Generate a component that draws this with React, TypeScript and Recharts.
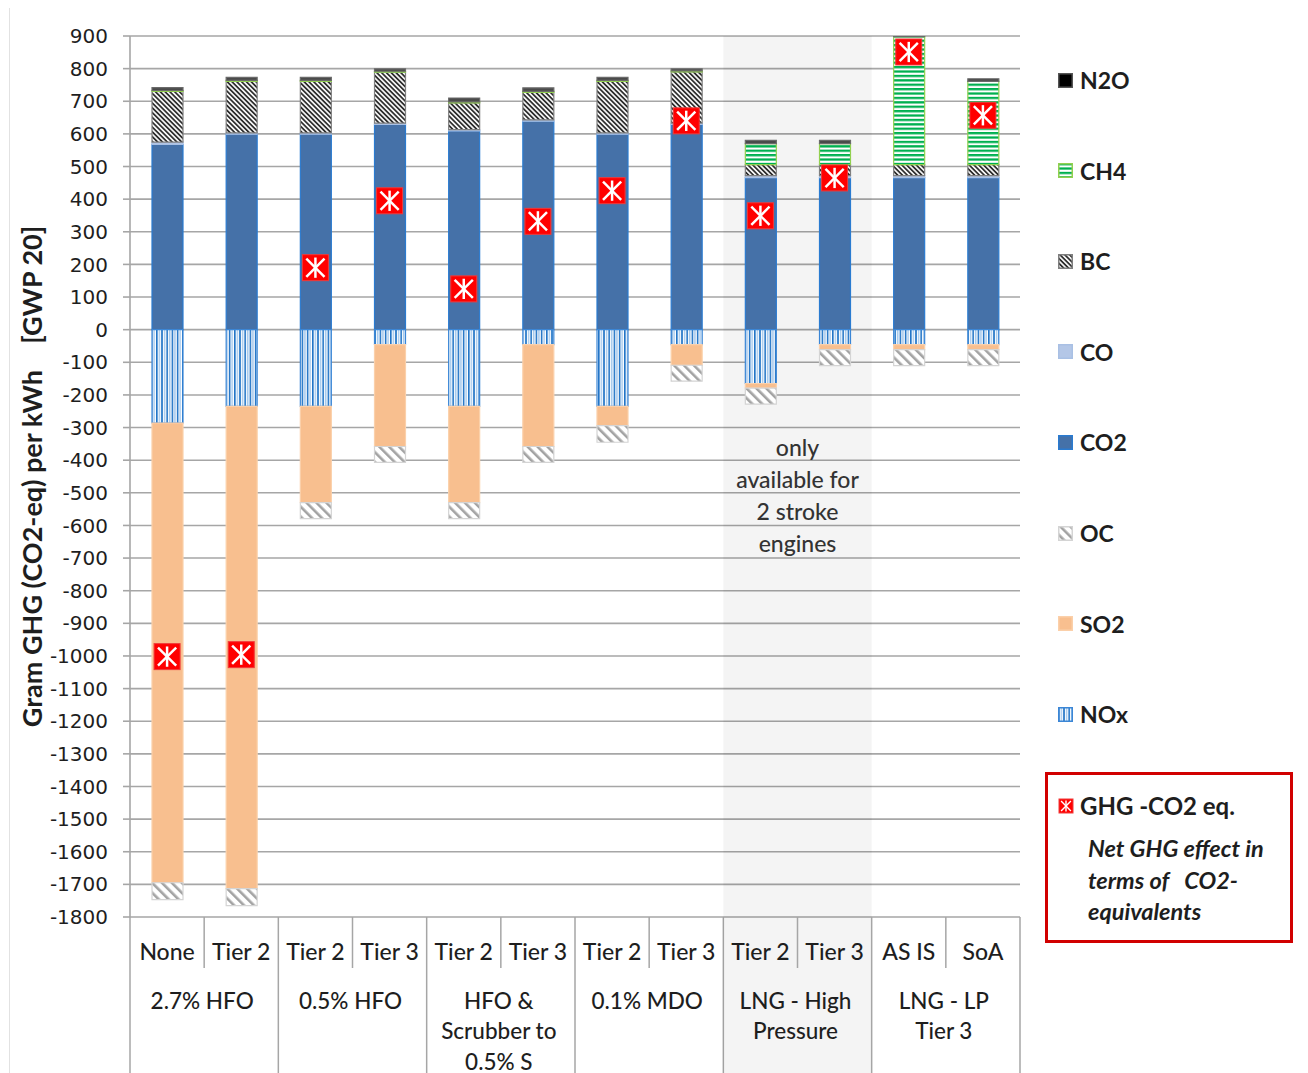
import React from 'react';
import { ComposedChart, Bar, Line, XAxis, YAxis, CartesianGrid, ReferenceArea } from 'recharts';

// Scenario keys (fuel / engine tier), two per fuel group
const categoryIds = [
  'hfo27-none', 'hfo27-t2', 'hfo05-t2', 'hfo05-t3', 'scrub-t2', 'scrub-t3',
  'mdo-t2', 'mdo-t3', 'lnghp-t2', 'lnghp-t3', 'lnglp-asis', 'lnglp-soa',
];
const tierLabels = ['None', 'Tier 2', 'Tier 2', 'Tier 3', 'Tier 2', 'Tier 3', 'Tier 2', 'Tier 3', 'Tier 2', 'Tier 3', 'AS IS', 'SoA'];
const groupLabels = [
  ['2.7% HFO'],
  ['0.5% HFO'],
  ['HFO &', 'Scrubber to', '0.5% S'],
  ['0.1% MDO'],
  ['LNG - High', 'Pressure'],
  ['LNG - LP', 'Tier 3'],
];

// g CO2-eq per kWh, GWP 20
const co2Values = [568, 599, 599, 629, 609, 639, 599, 629, 466, 466, 466, 466];
const coValues = [7, 4, 4, 4, 4, 4, 4, 4, 6, 6, 6, 6];
const bcValues = [155, 158, 158, 156, 82, 84, 158, 157, 34, 34, 34, 34];
const ch4Values = [3, 3, 3, 3, 3, 3, 3, 3, 64, 64, 392, 255];
const n2oValues = [9, 9, 9, 7, 12, 11, 9, 6, 10, 10, 2, 8];
const noxValues = [-286, -235, -235, -46, -235, -46, -235, -46, -165, -46, -46, -46];
const so2Values = [-1409, -1478, -295, -312, -295, -312, -59, -63, -14, -15, -15, -15];
const ocValues = [-52, -52, -49, -49, -49, -49, -51, -49, -49, -49, -49, -49];
const netGhgValues = [-1002, -996, 190, 395, 125, 332, 426, 640, 349, 465, 851, 657];

const yTicks = [900, 800, 700, 600, 500, 400, 300, 200, 100, 0, -100, -200, -300, -400, -500, -600, -700, -800, -900,
  -1000, -1100, -1200, -1300, -1400, -1500, -1600, -1700, -1800];

const noteLines = ['only', 'available for', '2 stroke', 'engines'];

const data = categoryIds.map((id, i) => ({
  id,
  co2: co2Values[i],
  co: coValues[i],
  bc: bcValues[i],
  ch4: ch4Values[i],
  n2o: n2oValues[i],
  nox: noxValues[i],
  so2: so2Values[i],
  oc: ocValues[i],
  ghg: netGhgValues[i],
}));

// Layout
const CHART_W = 1308;
const CHART_H = 1073;
const Y_AXIS_W = 130;
const X_AXIS_H = 156;
const MARGIN = { top: 36, right: 288, bottom: 0, left: 0 };
const PLOT_LEFT = MARGIN.left + Y_AXIS_W;
const PLOT_RIGHT = CHART_W - MARGIN.right;
const PLOT_BOTTOM = CHART_H - MARGIN.bottom - X_AXIS_H;
const BAND = (PLOT_RIGHT - PLOT_LEFT) / categoryIds.length;

const GRID = '#a6a6a6';
const TEXT = '#1e1e1e';
const SHADE = { fill: '#000', fillOpacity: 0.045 };
const LABEL_FONT = 'Lato, "Open Sans", sans-serif';

const series = [
  { key: 'co2', name: 'CO2', fill: '#4571a8', stroke: '#2a7bd0' },
  { key: 'co', name: 'CO', fill: '#b4c7e7', stroke: '#a9c0e4' },
  { key: 'bc', name: 'BC', fill: 'url(#pat-bc)', stroke: '#7f7f7f' },
  { key: 'ch4', name: 'CH4', fill: 'url(#pat-ch4)', stroke: '#92d050' },
  { key: 'n2o', name: 'N2O', fill: '#4a4a4a', stroke: '#6a6a6a' },
  { key: 'nox', name: 'NOx', fill: 'url(#pat-nox)', stroke: '#3b86d6' },
  { key: 'so2', name: 'SO2', fill: '#f8bf8f', stroke: '#fbd0aa' },
  { key: 'oc', name: 'OC', fill: 'url(#pat-oc)', stroke: '#d4d4d4' },
];

const legendOrder = ['n2o', 'ch4', 'bc', 'co', 'co2', 'oc', 'so2', 'nox'];

function PatternDefs() {
  return (
    <svg width={0} height={0} style={{ position: 'absolute' }} aria-hidden>
      <defs>
        <pattern id="pat-nox" patternUnits="userSpaceOnUse" width={5.2} height={10}>
          <rect width={5.2} height={10} fill="#ffffff" />
          <rect x={0} width={1.6} height={10} fill="#1f73c6" />
          <rect x={2.7} width={1.3} height={10} fill="#9cc3ea" />
        </pattern>
        <pattern id="pat-oc" patternUnits="userSpaceOnUse" width={7} height={7} patternTransform="rotate(-45)">
          <rect width={7} height={7} fill="#ffffff" />
          <rect x={0} width={2.6} height={7} fill="#a3a3a3" />
        </pattern>
        <pattern id="pat-bc" patternUnits="userSpaceOnUse" width={3.4} height={3.4} patternTransform="rotate(-45)">
          <rect width={3.4} height={3.4} fill="#f4f4f4" />
          <rect x={0} width={1.7} height={3.4} fill="#2e2e2e" />
        </pattern>
        <pattern id="pat-ch4" patternUnits="userSpaceOnUse" width={10} height={4.4}>
          <rect width={10} height={4.4} fill="#ffffff" />
          <rect y={0} width={10} height={2.3} fill="#00b050" />
        </pattern>
      </defs>
    </svg>
  );
}

function GhgMarker({ cx, cy, size = 13 }: { cx: number; cy: number; size?: number }) {
  const s = size;
  const v = s * 0.78;
  const d = s * 0.7;
  const w = Math.max(1.4, s * 0.19);
  return (
    <g>
      <rect x={cx - s} y={cy - s} width={2 * s} height={2 * s} fill="#ff0000" stroke="#f03a3a" strokeWidth={1} />
      <line x1={cx} y1={cy - v} x2={cx} y2={cy + v} stroke="#fff" strokeWidth={w} />
      <line x1={cx - d} y1={cy - d} x2={cx + d} y2={cy + d} stroke="#fff" strokeWidth={w} />
      <line x1={cx + d} y1={cy - d} x2={cx - d} y2={cy + d} stroke="#fff" strokeWidth={w} />
    </g>
  );
}

function renderMarker(props: any) {
  const { cx, cy, index } = props;
  if (cx == null || cy == null) return <g key={`m-${index}`} />;
  return <GhgMarker key={`m-${index}`} cx={cx} cy={cy} />;
}

// Two-level category table under the plot
function CategoryTick(props: any) {
  const { x, payload } = props;
  const i = props.index ?? payload.index;
  const first = i % 2 === 0;
  const group = Math.floor(i / 2);
  const left = x - BAND / 2;
  const right = x + BAND / 2;
  const lineProps = { stroke: GRID, strokeWidth: 1.5 };
  return (
    <g>
      {group === 4 && first && (
        <rect x={left} y={PLOT_BOTTOM} width={BAND * 2} height={CHART_H - PLOT_BOTTOM} {...SHADE} />
      )}
      {i === 0 && <line x1={left} x2={left} y1={PLOT_BOTTOM} y2={CHART_H} {...lineProps} />}
      <line x1={right} x2={right} y1={PLOT_BOTTOM} y2={first ? PLOT_BOTTOM + 51 : CHART_H} {...lineProps} />
      <text x={x} y={PLOT_BOTTOM + 34} textAnchor="middle" dominantBaseline="central"
        fontFamily={LABEL_FONT} fontWeight={500} fontSize={23} fill={TEXT}>{tierLabels[i]}</text>
      {first && groupLabels[group].map((line, k) => (
        <text key={k} x={right - 2} y={PLOT_BOTTOM + 83 + k * 30.5} textAnchor="middle" dominantBaseline="central"
          fontFamily={LABEL_FONT} fontWeight={500} fontSize={22.5} fill={TEXT}>{line}</text>
      ))}
    </g>
  );
}

function YTitle(props: any) {
  const vb = props.viewBox || { y: MARGIN.top, height: PLOT_BOTTOM - MARGIN.top };
  const cx = 31;
  const cy = vb.y + vb.height / 2;
  return (
    <text x={cx} y={cy} transform={`rotate(-90 ${cx} ${cy})`} textAnchor="middle" dominantBaseline="central"
      fontFamily={LABEL_FONT} fontWeight={700} fontSize={27} fill={TEXT} style={{ whiteSpace: 'pre' }}>
      {'Gram GHG (CO2-eq) per kWh    [GWP 20]'}
    </text>
  );
}

function NoteLabel(props: any) {
  const vb = props.viewBox;
  if (!vb) return null;
  const cx = vb.x + vb.width / 2;
  return (
    <g>
      {noteLines.map((t, k) => (
        <text key={k} x={cx} y={vb.y + 411 + k * 32} textAnchor="middle" dominantBaseline="central"
          fontFamily={LABEL_FONT} fontWeight={500} fontSize={23} fill="#333">{t}</text>
      ))}
    </g>
  );
}

function Swatch({ s }: { s: (typeof series)[number] }) {
  return (
    <svg width={15} height={15} style={{ display: 'block' }}>
      <rect x={0.75} y={0.75} width={13.5} height={13.5} fill={s.fill} stroke={s.stroke} strokeWidth={1.5} />
    </svg>
  );
}

function SideLegend() {
  return (
    <>
      {legendOrder.map((key, k) => {
        const s = series.find((e) => e.key === key)!;
        const cy = 80 + k * 90.6;
        return (
          <React.Fragment key={key}>
            <div style={{ position: 'absolute', left: 1058, top: cy - 7.5 }}>
              <Swatch s={key === 'n2o' ? { ...s, fill: '#000', stroke: '#555' } : s} />
            </div>
            <div style={{
              position: 'absolute', left: 1080, top: cy - 15, height: 30, lineHeight: '30px',
              fontFamily: LABEL_FONT, fontWeight: 700, fontSize: 23, color: TEXT,
            }}>{s.name}</div>
          </React.Fragment>
        );
      })}
      <div style={{
        position: 'absolute', left: 1045, top: 772, width: 248, height: 171, boxSizing: 'border-box',
        border: '3px solid #d10000', background: '#fff',
      }} />
      <svg width={16} height={16} style={{ position: 'absolute', left: 1058, top: 798 }}>
        <GhgMarker cx={8} cy={8} size={7} />
      </svg>
      <div style={{
        position: 'absolute', left: 1080, top: 791, height: 30, lineHeight: '30px',
        fontFamily: LABEL_FONT, fontWeight: 700, fontSize: 24, color: TEXT,
      }}>GHG -CO2 eq.</div>
      {['Net GHG effect in', 'terms of   CO2-', 'equivalents'].map((t, k) => (
        <div key={k} style={{
          position: 'absolute', left: 1088, top: 833 + k * 31.5, height: 30, lineHeight: '30px',
          fontFamily: LABEL_FONT, fontWeight: 700, fontStyle: 'italic', fontSize: 23.5, color: TEXT,
          whiteSpace: 'pre',
        }}>{t}</div>
      ))}
    </>
  );
}

export default function App() {
  return (
    <div style={{ position: 'relative', width: CHART_W, height: CHART_H, margin: '-8px 0 0 -8px', background: '#fff', overflow: 'hidden' }}>
      <PatternDefs />
      <div style={{ position: 'absolute', left: 9, top: 7, width: 1293, height: 1100, border: '1px solid #e2e2e2', boxSizing: 'border-box' }} />
      <div style={{ position: 'absolute', left: 0, top: 0 }}>
        <ComposedChart width={CHART_W} height={CHART_H} data={data} margin={MARGIN} stackOffset="sign" barSize={31}>
          <CartesianGrid vertical={false} stroke={GRID} strokeWidth={1.6} />
          <ReferenceArea x1="lnghp-t2" x2="lnghp-t3" {...SHADE} stroke="none" label={<NoteLabel />} />
          <XAxis dataKey="id" type="category" height={X_AXIS_H} axisLine={false} tickLine={false}
            tickSize={0} tickMargin={0} interval={0} tick={<CategoryTick />} />
          <YAxis type="number" width={Y_AXIS_W} domain={[-1800, 900]} ticks={yTicks} interval={0}
            allowDataOverflow axisLine={{ stroke: GRID, strokeWidth: 1.6 }} tickLine={{ stroke: GRID, strokeWidth: 1.6 }}
            tickSize={7} tickMargin={15}
            tick={{ fontFamily: '"DejaVu Sans", Verdana, sans-serif', fontSize: 20, fill: TEXT }}
            label={<YTitle />} />
          {series.map((s) => (
            <Bar key={s.key} dataKey={s.key} name={s.name} stackId="ghg" fill={s.fill} stroke={s.stroke}
              strokeWidth={1.2} isAnimationActive={false} />
          ))}
          <Line dataKey="ghg" name="GHG -CO2 eq." stroke="none" dot={renderMarker} activeDot={false}
            isAnimationActive={false} legendType="none" />
        </ComposedChart>
      </div>
      <SideLegend />
    </div>
  );
}
